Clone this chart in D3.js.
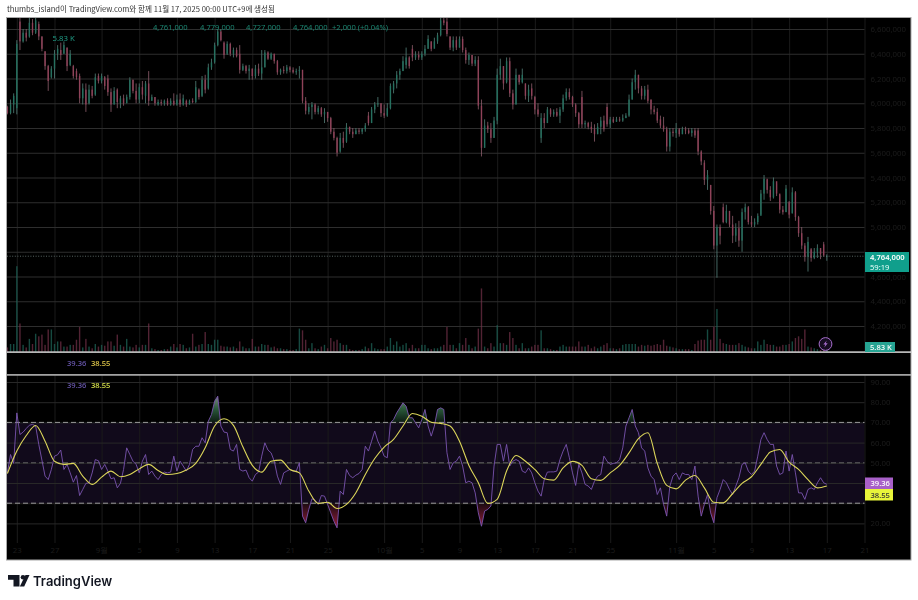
<!DOCTYPE html>
<html>
<head>
<meta charset="utf-8">
<script src="https://cdn.jsdelivr.net/npm/d3@7"></script>
<style>
  html, body { margin: 0; background: #fff; }
  svg { display: block; filter: blur(0.35px); }
  text { font-family: "Noto Sans CJK KR", "Noto Sans", sans-serif; }
</style>
</head>
<body>
<div id="chart"></div>
<script>
// prices in thousand KRW, one bar every 8 hours from Aug 22
const candleOpen = [5970,5920,5990,5960,6660,6500,6570,6540,6650,6570,6640,6540,6420,6300,6210,6280,6400,6430,6400,6450,6310,6300,6260,6220,6040,6110,6000,6110,6070,6220,
  6180,6210,6200,6090,5990,6110,6000,6040,6000,6050,6190,6100,6030,6130,6060,6160,6020,6050,5990,6010,6000,6020,5990,6020,5990,6030,5990,6020,5990,6020,
  6010,6110,6060,6190,6120,6290,6330,6470,6580,6490,6400,6480,6400,6430,6400,6270,6300,6260,6280,6220,6280,6240,6290,6410,6360,6400,6340,6250,6270,6260,
  6290,6270,6250,6260,6270,6020,5930,5970,5990,5930,5960,5910,5930,5880,5770,5720,5610,5720,5690,5810,5770,5750,5780,5770,5790,5900,5840,5950,5990,6000,
  5920,5900,5960,6110,6160,6230,6260,6310,6370,6440,6370,6390,6370,6400,6440,6500,6440,6500,6550,6670,6660,6540,6450,6510,6450,6520,6430,6350,6390,6320,
  6350,5980,5640,5820,5790,5720,5860,6230,6300,6170,6340,6080,5990,6230,6170,6160,6060,6120,6050,5950,5720,5880,5840,5950,5910,5930,5900,5950,6040,6090,
  6050,5990,5920,6050,5830,5840,5810,5790,5750,5810,5860,5970,5830,5870,5850,5870,5860,5880,5900,6030,6170,6230,6120,6060,6110,6030,5950,5930,5870,5820,
  5790,5650,5770,5760,5790,5750,5790,5780,5760,5780,5780,5610,5520,5380,5340,5130,4850,5000,5160,5040,5130,5020,4930,4990,4890,5120,5160,5040,5020,5040,
  5090,5270,5390,5300,5240,5370,5270,5140,5120,5200,5110,5280,5080,4950,4850,4760,4820,4750,4800,4830,4860,4761];
const candleClose = [5920,5990,6060,6480,6500,6570,6530,6650,6570,6670,6540,6440,6300,6180,6280,6400,6440,6390,6470,6300,6400,6220,6210,6040,6120,5990,6110,6060,6210,6180,
  6220,6140,6090,5990,6100,6010,6040,6000,6050,6190,6100,6030,6130,6070,6160,6020,6050,6000,6010,6000,6020,5990,6020,5990,6030,5990,6040,5990,6020,6010,
  6130,6050,6190,6110,6290,6330,6470,6580,6510,6390,6480,6400,6430,6380,6270,6300,6260,6280,6220,6280,6240,6290,6410,6360,6400,6340,6250,6270,6260,6290,
  6270,6250,6260,6270,6020,5940,5970,5990,5930,5960,5910,5930,5880,5770,5720,5600,5720,5680,5810,5770,5750,5780,5770,5790,5820,5840,5950,5990,6000,5920,
  5900,5960,6140,6160,6230,6260,6340,6370,6300,6370,6390,6370,6400,6440,6520,6440,6500,6550,6670,6650,6560,6450,6510,6450,6520,6430,6350,6390,6320,6350,
  5980,5640,5820,5790,5720,5860,6230,6300,6160,6340,6080,5990,6230,6170,6230,6060,6110,6060,5950,5910,5880,5840,5950,5910,5930,5900,5950,6040,6090,6050,
  5990,5920,5830,5830,5840,5810,5790,5750,5810,5860,5790,5830,5870,5850,5870,5860,5880,5900,6030,6170,6230,6120,6060,6110,6020,5950,5930,5860,5820,5790,
  5650,5770,5760,5790,5750,5790,5780,5760,5780,5740,5610,5530,5380,5420,5130,4850,5000,4930,5040,5130,5020,4930,4990,4890,5120,5160,5040,5020,5040,5090,
  5270,5390,5300,5240,5370,5270,5140,5120,5310,5100,5280,5080,4950,4850,4760,4880,4750,4800,4830,4780,4770,4764];
const candleHigh = [5980,6030,6080,6510,6690,6600,6600,6690,6680,6690,6660,6540,6420,6310,6300,6430,6470,6490,6500,6450,6430,6310,6280,6240,6160,6160,6150,6140,6240,6240,
  6240,6220,6230,6120,6130,6120,6060,6070,6070,6210,6190,6160,6160,6180,6180,6260,6070,6050,6030,6030,6030,6040,6040,6080,6070,6080,6070,6030,6030,6040,
  6180,6120,6220,6230,6320,6360,6490,6600,6600,6500,6500,6490,6450,6450,6470,6320,6310,6310,6280,6310,6320,6430,6430,6420,6410,6400,6350,6280,6300,6310,
  6300,6290,6280,6300,6270,6050,6000,6010,6000,5980,5970,5960,5930,5890,5800,5730,5760,5770,5840,5810,5800,5800,5800,5800,5840,5930,5970,6010,6050,6000,
  5990,6000,6160,6180,6260,6280,6380,6450,6380,6470,6420,6420,6420,6470,6550,6500,6530,6570,6690,6700,6690,6540,6540,6540,6540,6540,6450,6410,6390,6380,
  6380,6030,5870,5850,5840,5890,6280,6360,6300,6370,6370,6110,6280,6230,6280,6160,6150,6160,6060,6000,5920,5920,5970,5960,5950,5960,5970,6070,6120,6120,
  6060,6000,5930,6100,5860,5850,5850,5830,5840,5890,5900,6000,5890,5890,5890,5890,5910,5920,6070,6200,6270,6230,6140,6140,6150,6030,5980,5960,5900,5890,
  5810,5800,5800,5840,5800,5810,5810,5800,5800,5800,5800,5620,5540,5460,5340,5170,5020,5020,5190,5180,5130,5090,5030,5050,5150,5190,5170,5090,5070,5110,
  5300,5420,5380,5330,5400,5350,5260,5170,5340,5210,5320,5290,5090,5000,4870,4920,4830,4830,4860,4830,4880,4779];
const candleLow = [5910,5910,5920,5910,6430,6490,6500,6530,6550,6560,6510,6420,6270,6100,6200,6200,6350,6350,6400,6260,6300,6200,6190,6000,5990,5930,5990,6040,6060,6160,
  6160,6110,6060,5930,5990,5960,5960,5980,6000,6030,6080,6000,6000,6030,6000,5980,6020,5980,5980,5980,5980,5980,5980,5980,5980,5970,5980,5970,5990,6000,
  6000,6030,6050,6080,6110,6270,6320,6460,6500,6360,6390,6380,6370,6370,6240,6260,6240,6190,6190,6200,6220,6190,6290,6350,6350,6320,6230,6230,6240,6240,
  6250,6240,6230,6200,6000,5910,5910,5870,5910,5910,5890,5840,5850,5750,5700,5570,5600,5640,5680,5750,5720,5750,5750,5750,5770,5820,5840,5920,5970,5890,
  5880,5890,5950,6080,6120,6190,6260,6280,6280,6340,6350,6350,6350,6380,6440,6420,6450,6480,6540,6630,6540,6430,6420,6430,6450,6410,6320,6310,6300,6300,
  5950,5570,5640,5760,5680,5720,5830,6190,6110,6160,6050,5950,5990,6150,6160,6030,6010,6030,5910,5890,5680,5800,5840,5890,5890,5890,5840,5930,6020,6030,
  5970,5890,5800,5800,5800,5790,5760,5690,5750,5750,5770,5810,5800,5840,5850,5850,5850,5880,5890,6030,6110,6080,6030,6030,6000,5910,5910,5840,5800,5770,
  5610,5610,5730,5720,5730,5750,5750,5750,5730,5720,5580,5500,5340,5300,5100,4820,4590,4860,5030,5030,5000,4870,4880,4840,4800,5060,5020,5000,5000,5020,
  5100,5220,5270,5210,5230,5250,5110,5100,5120,5070,5110,5050,4920,4820,4720,4640,4720,4740,4750,4740,4760,4727];
// volume in thousands
const volume = [5,9,9,100,33,8,5,15,9,21,18,20,8,26,26,9,12,12,6,6,8,8,14,29,5,15,6,4,9,6,
  8,7,12,12,7,20,8,6,15,6,5,8,5,8,8,33,4,3,2,2,3,3,6,9,5,9,8,4,5,21,
  6,8,9,23,9,8,14,14,7,6,6,5,6,4,12,6,4,4,15,6,6,9,8,8,5,6,4,4,3,3,
  2,2,3,27,25,14,4,10,4,3,6,8,4,16,12,14,10,8,8,3,2,2,2,3,6,4,10,4,3,3,
  3,6,16,8,12,6,8,10,4,8,4,4,8,8,4,3,4,4,6,8,29,8,8,4,10,8,16,8,4,6,
  27,74,6,4,10,6,31,10,10,8,23,16,8,4,10,4,4,6,8,8,25,4,4,3,2,2,6,8,6,6,
  6,6,12,6,6,8,4,6,4,6,8,10,4,4,3,4,8,9,9,9,9,6,8,7,8,7,8,9,8,14,
  7,6,5,4,3,3,3,3,2,9,13,14,14,26,14,29,50,15,10,9,8,8,8,10,8,6,5,4,4,12,
  8,14,9,8,8,6,6,8,8,9,12,16,18,15,26,6,5,4,3,2,2,5.83];
// RSI, one reading per bar
const rsiValues = [45,54.1,49.7,74.7,64,65.2,67,68.6,69,68.2,59.1,51.3,43.4,41.7,46.7,53.3,54,56.3,46.7,49.2,45,40.4,43.7,33.8,36.8,39.8,40.1,45,51.6,51,
  46.7,49.2,45.9,42.1,42.6,37.6,39.8,46.7,57.4,54.1,50.8,49.2,45,50.8,54.1,44.2,45.9,43.4,41.7,44.2,45.4,45,45.4,53.3,45.9,50.8,48.4,45.9,49.2,56.6,
  58.2,58.2,62.4,59.9,70.6,73.9,80.5,83,68.2,65.2,64.9,56.6,55.8,59.1,46.7,45.9,46.4,42.6,40.9,44.2,45.4,53.3,59.9,56.3,54.9,50.8,43.4,39.3,45,45.9,
  46.7,45.9,45.9,50,23.6,20.3,26.9,32.2,31.5,29.4,33.8,33.5,29.4,25.2,21.1,17.8,36,34.3,46.7,43.7,42.6,43.9,44.7,46.7,58.2,55.8,60.7,65.7,60.7,57.4,
  53.3,52.5,69.8,71.4,74.7,77.2,79.7,78,72.3,72.3,69.8,67.3,71.4,76.4,68.2,63.2,68.2,76.4,77.2,76.4,55,46.7,50,50.8,53.3,48.4,40.1,40.9,40.1,35.1,
  25.2,18.6,26.1,26.9,28.6,48.4,59.1,59.1,50.8,59.1,48.4,50.8,51.6,50.8,45.9,45.1,47.5,45,40.1,36,33.5,41.7,45.4,45.5,45.5,45.9,51.6,55.8,59.1,52.5,
  45,38.8,49.2,45,39.3,38.5,36.8,40.9,43.4,44.2,53.3,50.8,49.2,49.7,50,51.6,57.4,68.2,72.3,76.4,68.2,64.9,57.4,55.8,47.5,43.4,41.7,34.3,37.6,29.4,
  23.6,38.4,43.4,45,41.7,45,44.2,44.2,41.7,48.4,33.5,23.6,29.4,34.3,25.2,20.3,32.7,36.8,41.7,40.1,36.8,34.3,38.4,42.6,49.2,50,45.9,44.2,45.9,53.3,
  61.5,64.9,61.5,59.1,59.1,48.4,44.2,45,55.8,45.9,54.1,45,35.1,35.1,31.9,36.8,37.6,36.8,40.1,42.6,40.1,39.36];
// RSI moving average, one reading per day
const signalValues = [44.7,55.8,63.5,68.5,60.7,50.8,49.2,49.7,43.4,39.3,42.9,45.9,43.1,44.2,47,49.2,46.2,44.2,44.7,46.4,49.7,57.4,68.2,71.8,68.5,57.9,48.7,45.4,50.8,51.3,
  46.7,45,36,29.9,30.5,27.4,29.4,35.2,44.2,52.1,57.8,61.6,68.2,74.4,73.1,70.1,69.5,68.2,60.7,48.7,40.1,29.9,31.9,45.9,53.6,50.8,46.7,42.1,41.4,47.5,
  50.7,48.7,42.1,41.3,45,48.7,54.9,62,64.9,49.7,38.8,37.1,41.4,43.7,37.6,30.5,30.2,34.8,39.8,43.1,49.2,55.3,56.6,50.3,46.7,41.7,37.6,38.55];

const priceTicks = [6600,6400,6200,6000,5800,5600,5400,5200,5000,4800,4600,4400,4200];
const priceTicksHidden = [4800];
const rsiTicks = [90,80,70,60,50,40,30,20];
const rsiTicksHidden = [40,30];
const rsiLevels = [70,50,30];
const timeTicks = ["2025-08-23","2025-08-27","2025-09-01","2025-09-05","2025-09-09","2025-09-13","2025-09-17","2025-09-21","2025-09-25",
  "2025-10-01","2025-10-05","2025-10-09","2025-10-13","2025-10-17","2025-10-21","2025-10-25",
  "2025-11-01","2025-11-05","2025-11-09","2025-11-13","2025-11-17","2025-11-21"].map(d => new Date(d + "T00:00:00Z"));
const ohlcLabels = ["4,761,000","4,779,000","4,727,000","4,764,000","+2,000 (+0.04%)"];

const width = 918, height = 600;
const plotLeft = 7, plotRight = 864.5, panelRight = 911;
const mainTop = 18, mainBottom = 352, rsiTop = 375, rsiBottom = 543, panelBottom = 560;
const upColor = "#25705f", downColor = "#8f4259";

const svg = d3.select("#chart").append("svg").attr("width", width).attr("height", height);

const start = Date.UTC(2025, 7, 22);
const barTime = i => new Date(start + i * 8 * 3600 * 1000);
const x = d3.scaleUtc().domain([new Date(start), new Date(Date.UTC(2025, 10, 21))]).range([7.4, 864.5]);
const priceY = d3.scaleLinear().domain([4200, 6600]).range([326, 29]);
const volumeY = d3.scaleLinear().domain([0, 100]).range([351.7, 266.2]);
const rsiY = d3.scaleLinear().domain([20, 90]).range([523.4, 382]);

// panel
svg.append("rect").attr("x", plotLeft - 0.5).attr("y", mainTop - 0.5).attr("width", panelRight - plotLeft + 0.5)
  .attr("height", panelBottom - mainTop + 0.5).attr("fill", "#000").attr("stroke", "#a8a8a8").attr("stroke-width", 1);

const defs = svg.append("defs");
defs.append("clipPath").attr("id", "clip-main").append("rect")
  .attr("x", plotLeft).attr("y", mainTop).attr("width", plotRight - plotLeft).attr("height", mainBottom - mainTop);
defs.append("clipPath").attr("id", "clip-high").append("rect")
  .attr("x", plotLeft).attr("y", rsiTop).attr("width", plotRight - plotLeft).attr("height", rsiY(70) - rsiTop);
defs.append("clipPath").attr("id", "clip-low").append("rect")
  .attr("x", plotLeft).attr("y", rsiY(30)).attr("width", plotRight - plotLeft).attr("height", rsiBottom - rsiY(30));

const highGrad = defs.append("linearGradient").attr("id", "grad-high").attr("gradientUnits", "userSpaceOnUse")
  .attr("x1", 0).attr("x2", 0).attr("y1", rsiY(85)).attr("y2", rsiY(70));
highGrad.append("stop").attr("offset", "0%").attr("stop-color", "#9a9a9a");
highGrad.append("stop").attr("offset", "55%").attr("stop-color", "#2a5a3a");
highGrad.append("stop").attr("offset", "100%").attr("stop-color", "#0c1a12");
const lowGrad = defs.append("linearGradient").attr("id", "grad-low").attr("gradientUnits", "userSpaceOnUse")
  .attr("x1", 0).attr("x2", 0).attr("y1", rsiY(30)).attr("y2", rsiY(18));
lowGrad.append("stop").attr("offset", "0%").attr("stop-color", "#1a0a10");
lowGrad.append("stop").attr("offset", "100%").attr("stop-color", "#96203c");

// RSI band sits under the grid
svg.append("rect").attr("x", plotLeft).attr("y", rsiY(70)).attr("width", plotRight - plotLeft)
  .attr("height", rsiY(30) - rsiY(70)).attr("fill", "#110a1b");

function styleAxis(g, gridColor, textColor) {
  g.select(".domain").remove();
  g.selectAll(".tick line").attr("stroke", gridColor).attr("stroke-width", 1);
  g.selectAll(".tick text").attr("fill", textColor).style("font-family", '"Noto Sans", sans-serif').style("font-size", "7.8px");
}

// vertical grid
svg.append("g").attr("transform", `translate(0,${mainBottom})`)
  .call(d3.axisBottom(x).tickValues(timeTicks).tickSize(mainTop - mainBottom).tickFormat(""))
  .call(g => styleAxis(g, "#1b1b1b", "#000"));
svg.append("g").attr("transform", `translate(0,${rsiBottom})`)
  .call(d3.axisBottom(x).tickValues(timeTicks).tickSize(rsiTop - rsiBottom)
    .tickFormat(d => d.getUTCDate() === 1 ? `${d.getUTCMonth() + 1}월` : d.getUTCDate()))
  .call(g => styleAxis(g, "#1b1b1b", "#1c1c1c"))
  .call(g => g.selectAll(".tick text").attr("y", 4).attr("dy", "0.71em"));

// horizontal grid and price labels
svg.append("g").attr("transform", `translate(${plotRight},0)`)
  .call(d3.axisRight(priceY).tickValues(priceTicks).tickSize(plotLeft - plotRight)
    .tickFormat(d => priceTicksHidden.includes(d) ? "" : d3.format(",")(d * 1000)))
  .call(g => styleAxis(g, "#2e2e2e", "#1c1c1c"))
  .call(g => g.selectAll(".tick text").attr("x", 6));
svg.append("g").attr("transform", `translate(${plotRight},0)`)
  .call(d3.axisRight(rsiY).tickValues(rsiTicks).tickSize(plotLeft - plotRight)
    .tickFormat(d => rsiTicksHidden.includes(d) ? "" : d3.format(".2f")(d)))
  .call(g => styleAxis(g, "#282828", "#1c1c1c"))
  .call(g => g.selectAll(".tick text").attr("x", 6));

// volume
const main = svg.append("g").attr("clip-path", "url(#clip-main)");
main.append("g").selectAll("rect").data(volume).enter().append("rect")
  .attr("x", (d, i) => x(barTime(i)) - 0.7)
  .attr("width", 1.4)
  .attr("y", d => volumeY(d))
  .attr("height", d => volumeY(0) - volumeY(d))
  .attr("fill", (d, i) => candleClose[i] >= candleOpen[i] ? "#1f6a5c" : "#75324a")
  .attr("opacity", 0.7);

// candles
const candles = main.append("g").selectAll("g").data(candleHigh).enter().append("g");
candles.append("line")
  .attr("x1", (d, i) => x(barTime(i))).attr("x2", (d, i) => x(barTime(i)))
  .attr("y1", d => priceY(d)).attr("y2", (d, i) => priceY(candleLow[i]))
  .attr("stroke", (d, i) => candleClose[i] >= candleOpen[i] ? "#55837b" : "#8f5f6d")
  .attr("stroke-width", 0.8);
candles.append("rect")
  .attr("x", (d, i) => x(barTime(i)) - 0.7)
  .attr("width", 1.4)
  .attr("y", (d, i) => priceY(Math.max(candleOpen[i], candleClose[i])))
  .attr("height", (d, i) => Math.max(0.8, Math.abs(priceY(candleOpen[i]) - priceY(candleClose[i]))))
  .attr("fill", (d, i) => candleClose[i] >= candleOpen[i] ? upColor : downColor);

// last price line
const lastPrice = candleClose[candleClose.length - 1];
svg.append("line").attr("x1", plotLeft).attr("x2", plotRight).attr("y1", priceY(lastPrice)).attr("y2", priceY(lastPrice))
  .attr("stroke", "#6f7f7b").attr("stroke-width", 0.8).attr("stroke-dasharray", "1,1.6");

// separators between the panes
svg.append("rect").attr("x", plotLeft).attr("y", mainBottom - 0.6).attr("width", panelRight - plotLeft).attr("height", 1.4).attr("fill", "#e4e4e4");
svg.append("rect").attr("x", plotLeft).attr("y", rsiTop - 0.9).attr("width", panelRight - plotLeft).attr("height", 1.6).attr("fill", "#b4b4b4");

// RSI pane
const highRegion = d3.area().x((d, i) => x(barTime(i))).y0(rsiY(70)).y1(d => rsiY(d));
svg.append("path").datum(rsiValues).attr("clip-path", "url(#clip-high)").attr("d", highRegion).attr("fill", "url(#grad-high)");
const lowRegion = d3.area().x((d, i) => x(barTime(i))).y0(rsiY(30)).y1(d => rsiY(d));
svg.append("path").datum(rsiValues).attr("clip-path", "url(#clip-low)").attr("d", lowRegion).attr("fill", "url(#grad-low)");

svg.append("g").selectAll("line").data(rsiLevels).enter().append("line")
  .attr("x1", plotLeft).attr("x2", plotRight)
  .attr("y1", d => rsiY(d)).attr("y2", d => rsiY(d))
  .attr("stroke", d => d === 50 ? "#6c6c6c" : "#a9a9a9")
  .attr("stroke-width", 0.9)
  .attr("stroke-dasharray", "5,3");

svg.append("path").datum(rsiValues)
  .attr("d", d3.line().x((d, i) => x(barTime(i))).y(d => rsiY(d)))
  .attr("fill", "none").attr("stroke", "#7a55b0").attr("stroke-width", 0.9);
svg.append("path").datum(signalValues)
  .attr("d", d3.line().x((d, i) => x(barTime(i * 3))).y(d => rsiY(d)).curve(d3.curveMonotoneX))
  .attr("fill", "none").attr("stroke", "#dcd65a").attr("stroke-width", 1.1);

// texts
svg.append("text").attr("x", 7).attr("y", 12).attr("fill", "#333").style("font-size", "7.6px")
  .text("thumbs_island이 TradingView.com와 함께 11월 17, 2025 00:00 UTC+9에 생성됨");

const ohlcX = [153, 200, 246, 293, 332];
svg.append("g").selectAll("text").data(ohlcLabels).enter().append("text")
  .attr("x", (d, i) => ohlcX[i]).attr("y", 30)
  .attr("fill", "#1c8672")
  .style("font-family", '"Noto Sans", sans-serif').style("font-size", "7.6px")
  .text(d => d);
svg.append("text").attr("x", 52.5).attr("y", 41).attr("fill", "#1f9a84")
  .style("font-family", '"Noto Sans", sans-serif').style("font-size", "7.8px").text("5.83 K");

[365.5, 387.5].forEach(y => {
  svg.append("text").attr("x", 67).attr("y", y).attr("fill", "#6a58b0")
    .style("font-family", '"Noto Sans", sans-serif').style("font-size", "7.6px").style("font-weight", 500).text("39.36");
  svg.append("text").attr("x", 91).attr("y", y).attr("fill", y < 370 ? "#e2c94a" : "#d6e04a")
    .style("font-family", '"Noto Sans", sans-serif').style("font-size", "7.6px").style("font-weight", 500).text("38.55");
});

// right hand value boxes
function valueBox(x0, y0, w, h, fill) {
  svg.append("rect").attr("x", x0).attr("y", y0).attr("width", w).attr("height", h).attr("fill", fill);
}
function boxText(x0, y0, label, fill, weight) {
  svg.append("text").attr("x", x0).attr("y", y0).attr("fill", fill)
    .style("font-family", '"Noto Sans", sans-serif').style("font-size", "7.6px").style("font-weight", weight).text(label);
}
valueBox(865, 252, 44, 20, "#109f8c");
boxText(870, 259.5, "4,764,000", "#fff", 600);
boxText(870, 269.8, "59:19", "#e8fff9", 400);
valueBox(865, 342, 30, 10, "#26a493");
boxText(870, 350, "5.83 K", "#fff", 500);
valueBox(865, 477.5, 28, 11.5, "#a860c8");
boxText(870.5, 486.4, "39.36", "#fff", 500);
valueBox(865, 489, 28, 11.5, "#e8f53a");
boxText(870.5, 497.8, "38.55", "#333", 500);

// alert icon
const bolt = svg.append("g").attr("transform", "translate(825.5,344)");
bolt.append("circle").attr("r", 6.4).attr("fill", "#170d22").attr("stroke", "#a56ccb").attr("stroke-width", 1);
bolt.append("path").attr("d", "M1.2,-3.6 L-2.2,0.6 L-0.2,0.6 L-1.2,3.6 L2.2,-0.8 L0.2,-0.8 Z").attr("fill", "#a56ccb");

// logo
const logo = svg.append("g").attr("fill", "#131722");
logo.append("path").attr("d", "M8,575 H19.5 V586.5 H13.5 V579.8 H8 Z");
logo.append("circle").attr("cx", 23).attr("cy", 577.3).attr("r", 2.3);
logo.append("path").attr("d", "M25.5,575 H29.5 L24.2,586.5 H19.8 Z");
svg.append("text").attr("x", 33).attr("y", 586).attr("fill", "#131722")
  .style("font-family", "Inter, Roboto, sans-serif").style("font-size", "13px").style("font-weight", 600)
  .text("TradingView");
</script>
</body>
</html>
